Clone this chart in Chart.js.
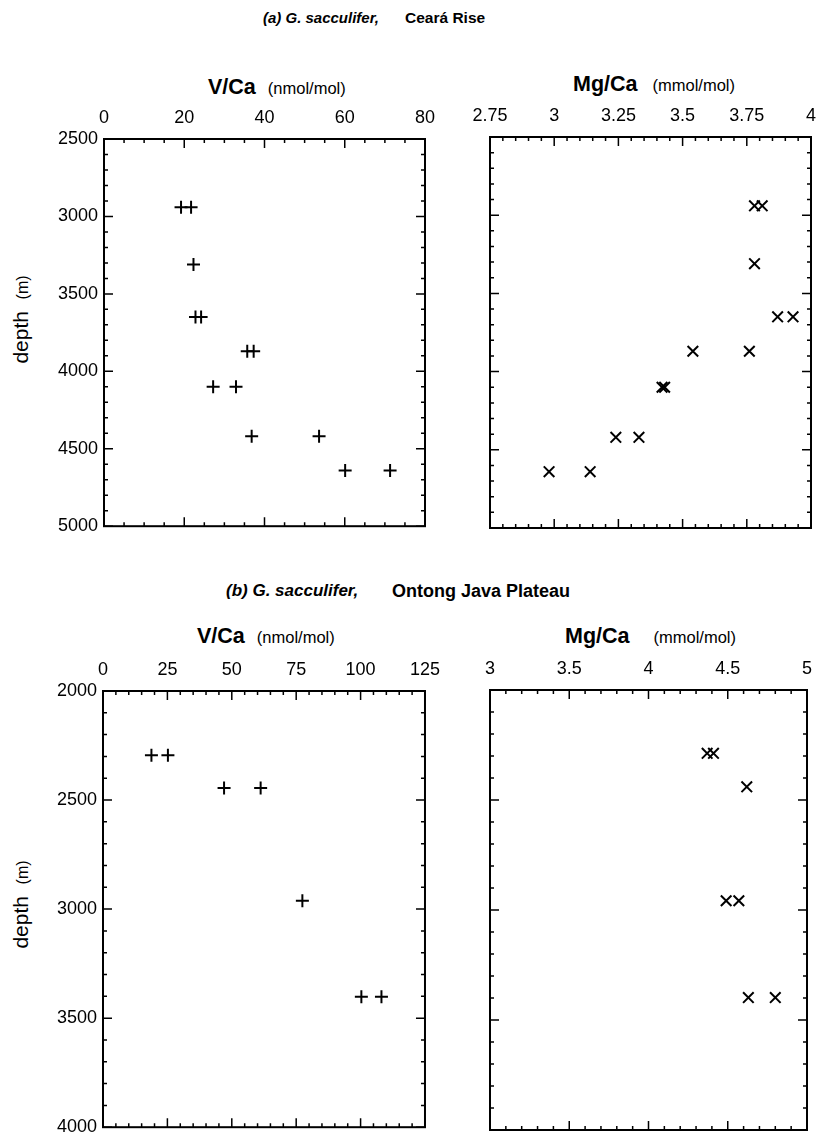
<!DOCTYPE html>
<html>
<head>
<meta charset="utf-8">
<script src="https://cdn.jsdelivr.net/npm/chart.js@4.4.1/dist/chart.umd.min.js"></script>
<style>
  body { margin: 0; background: #fff; font-family: "Liberation Sans", Arial, sans-serif; color: #000; }
  #page { position: relative; width: 817px; height: 1138px; overflow: hidden; }
  canvas { position: absolute; }
  .txt { position: absolute; white-space: nowrap; line-height: 1; }
  .head { font-weight: bold; }
  .head i { font-style: italic; }
  .ax { font-weight: bold; font-size: 21.5px; }
  .unit { font-weight: normal; font-size: 16.5px; }
  .depth { transform: rotate(-90deg); transform-origin: center center; font-size: 21px; }
  .depth span { font-size: 16px; }
</style>
</head>
<body>
<div id="page">
  <div class="txt head" style="left:263px; top:10px; font-size:15px;"><i>(a) G. sacculifer,</i></div>
  <div class="txt head" style="left:405px; top:10px; font-size:15.5px;">Ceará Rise</div>
  <div class="txt ax" style="left:208px; top:77px;">V/Ca<span class="unit" style="margin-left:12px;">(nmol/mol)</span></div>
  <div class="txt ax" style="left:573px; top:74px;">Mg/Ca<span class="unit" style="margin-left:15px;">(mmol/mol)</span></div>
  <div class="txt depth" style="left:-40px; top:309px; width:120px; text-align:center;">depth&nbsp;&nbsp;<span>(m)</span></div>

  <div class="txt head" style="left:226px; top:582px; font-size:17px;"><i>(b) G. sacculifer,</i></div>
  <div class="txt head" style="left:392px; top:582px; font-size:18px;">Ontong Java Plateau</div>
  <div class="txt ax" style="left:197px; top:626px;">V/Ca<span class="unit" style="margin-left:12px;">(nmol/mol)</span></div>
  <div class="txt ax" style="left:565px; top:626px;">Mg/Ca<span class="unit" style="margin-left:24px;">(mmol/mol)</span></div>
  <div class="txt depth" style="left:-40px; top:894px; width:120px; text-align:center;">depth&nbsp;&nbsp;<span>(m)</span></div>

  <canvas id="aV"></canvas>
  <canvas id="aMg"></canvas>
  <canvas id="bV"></canvas>
  <canvas id="bMg"></canvas>
</div>
<script>
// (a) Ceara Rise
const cearaDepth = [2940, 2940, 3310, 3650, 3650, 3870, 3870, 4100, 4100, 4420, 4420, 4640, 4640];
const cearaVCa = [19.2, 21.7, 22.3, 22.8, 24.2, 35.7, 37.3, 27.2, 32.9, 36.8, 53.6, 60.1, 71.3];
const cearaMgCa = [3.78, 3.81, 3.78, 3.87, 3.93, 3.54, 3.76, 3.42, 3.43, 3.24, 3.33, 2.98, 3.14];

// (b) Ontong Java Plateau
const ojpDepthV = [2295, 2295, 2445, 2445, 2962, 3402, 3402];
const ojpVCa = [18.8, 25.2, 47.0, 61.2, 77.4, 100.3, 108.1];
const ojpDepthMg = [2288, 2288, 2440, 2958, 2958, 3398, 3398];
const ojpMgCa = [4.37, 4.41, 4.62, 4.49, 4.57, 4.63, 4.80];

// tick labels
const vcaTicksA = [0, 20, 40, 60, 80];
const mgcaTicksA = [2.75, 3, 3.25, 3.5, 3.75, 4];
const depthTicksA = [2500, 3000, 3500, 4000, 4500, 5000];
const vcaTicksB = [0, 25, 50, 75, 100, 125];
const mgcaTicksB = [3, 3.5, 4, 4.5, 5];
const depthTicksB = [2000, 2500, 3000, 3500, 4000];

const tickFont = { family: "'Liberation Sans', Arial, sans-serif", size: 18 };

// inward major + minor ticks on all four sides, plus the frame
function marks(scale, list, minor, draw) {
  const major = list[1] - list[0];
  const n = Math.round((scale.max - scale.min) / minor);
  for (let i = 0; i <= n; i++) {
    const v = scale.min + i * minor;
    const r = (v - scale.min) / major;
    draw(scale.getPixelForValue(v), Math.abs(r - Math.round(r)) < 1e-6 ? 9 : 4);
  }
}

const innerTicks = {
  id: 'innerTicks',
  afterDatasetsDraw(chart, args, opts) {
    const { ctx, chartArea: a } = chart;
    ctx.save();
    ctx.strokeStyle = '#000';
    ctx.lineWidth = 1.5;
    ctx.beginPath();
    marks(chart.scales.x, opts.xTicks, opts.xMinor, (p, len) => {
      ctx.moveTo(p, a.top); ctx.lineTo(p, a.top + len);
      ctx.moveTo(p, a.bottom); ctx.lineTo(p, a.bottom - len);
    });
    marks(chart.scales.y, opts.yTicks, opts.yMinor, (p, len) => {
      ctx.moveTo(a.left, p); ctx.lineTo(a.left + len, p);
      ctx.moveTo(a.right, p); ctx.lineTo(a.right - len, p);
    });
    ctx.stroke();
    ctx.lineWidth = 2;
    ctx.strokeRect(a.left, a.top, a.right - a.left, a.bottom - a.top);
    ctx.restore();
  }
};

// box = [left, top, right, bottom] of the plot frame on the page
function panel(id, xs, ys, style, xTicks, xMinor, yTicks, yMinor, yLabels, box) {
  const padTop = 45, padRight = 25, padBottom = 14, padLeft = yLabels ? 70 : 30;
  const canvas = document.getElementById(id);
  canvas.width = box[2] - box[0] + padLeft + padRight;
  canvas.height = box[3] - box[1] + padTop + padBottom;
  canvas.style.left = (box[0] - padLeft) + 'px';
  canvas.style.top = (box[1] - padTop) + 'px';

  const points = xs.map((v, i) => ({ x: v, y: ys[i] }));
  const chart = new Chart(canvas, {
    type: 'scatter',
    data: {
      datasets: [{
        data: points,
        pointStyle: style,
        pointRadius: style === 'cross' ? 6.5 : 7.5,
        borderColor: '#000',
        backgroundColor: '#000',
        borderWidth: 2
      }]
    },
    options: {
      responsive: false,
      animation: false,
      events: [],
      layout: { padding: { left: 0, top: 0, right: padRight, bottom: padBottom } },
      plugins: {
        legend: { display: false },
        tooltip: { enabled: false },
        innerTicks: { xTicks, xMinor, yTicks, yMinor }
      },
      scales: {
        x: {
          type: 'linear',
          position: 'top',
          min: xTicks[0],
          max: xTicks[xTicks.length - 1],
          grid: { display: false, drawTicks: false },
          border: { display: false },
          ticks: { color: '#000', font: tickFont, padding: 10, maxRotation: 0, autoSkip: false, callback: v => String(v) },
          afterBuildTicks: s => { s.ticks = xTicks.map(v => ({ value: v })); },
          afterFit: s => { s.height = padTop; }
        },
        y: {
          type: 'linear',
          position: 'left',
          reverse: true,
          min: yTicks[0],
          max: yTicks[yTicks.length - 1],
          grid: { display: false, drawTicks: false },
          border: { display: false },
          ticks: { display: yLabels, color: '#000', font: tickFont, padding: 6, autoSkip: false, callback: v => String(v) },
          afterBuildTicks: s => { s.ticks = yTicks.map(v => ({ value: v })); },
          afterFit: s => { s.width = padLeft; }
        }
      }
    },
    plugins: [innerTicks]
  });
  // nudge the canvas so the frame sits where the reference has it
  const a = chart.chartArea;
  canvas.style.left = (box[0] - a.left) + 'px';
  canvas.style.top = (box[1] - a.top) + 'px';
  return chart;
}

panel('aV', cearaVCa, cearaDepth, 'cross', vcaTicksA, 5, depthTicksA, 100, true, [104, 139, 425, 529]);
panel('aMg', cearaMgCa, cearaDepth, 'crossRot', mgcaTicksA, 0.05, depthTicksA, 100, false, [490, 137, 811, 528]);
panel('bV', ojpVCa, ojpDepthV, 'cross', vcaTicksB, 5, depthTicksB, 100, true, [103, 691, 425, 1130]);
panel('bMg', ojpMgCa, ojpDepthMg, 'crossRot', mgcaTicksB, 0.1, depthTicksB, 100, false, [490, 690, 807, 1130]);
</script>
</body>
</html>
